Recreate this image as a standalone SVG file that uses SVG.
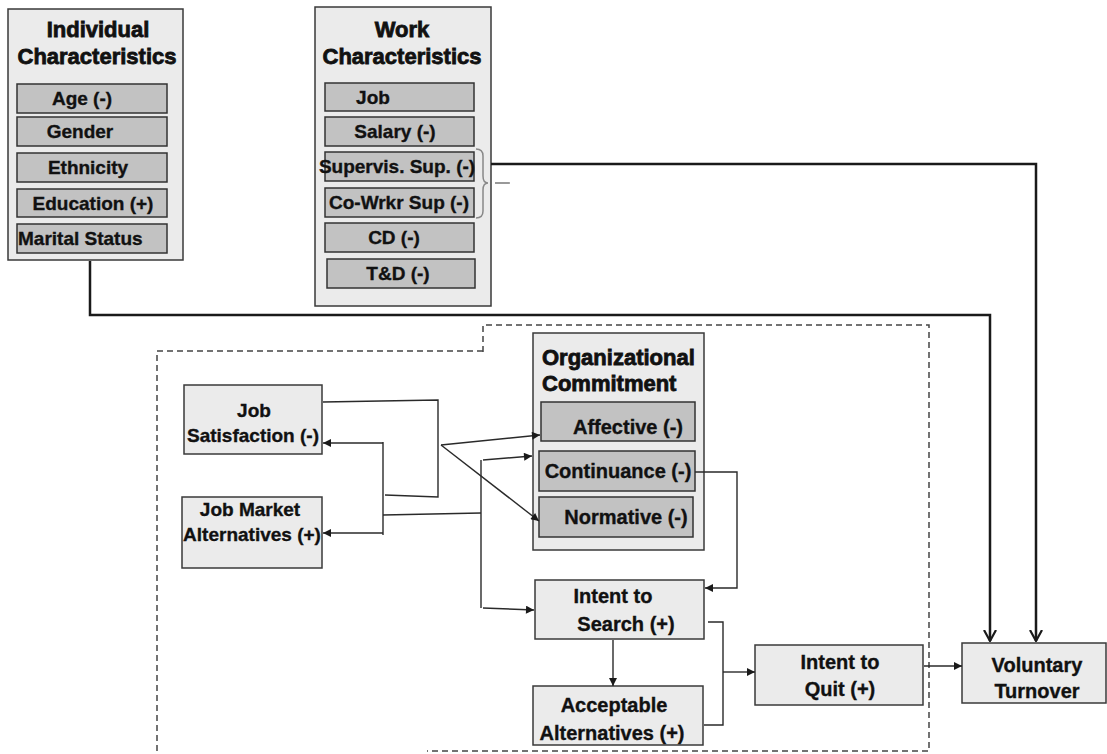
<svg xmlns="http://www.w3.org/2000/svg" width="1107" height="754" viewBox="0 0 1107 754">
  <style>
    .outer { fill: #ebebeb; stroke: #3a3a3a; stroke-width: 1.5; }
    .inner { fill: #c2c2c2; stroke: #333; stroke-width: 1.5; }
    .node { fill: #ebebeb; stroke: #3a3a3a; stroke-width: 1.5; }
    text { font-family: "Liberation Sans", Arial, sans-serif; font-weight: bold; fill: #111; stroke: #111; stroke-width: 0.35; }
    .title { font-size: 22px; stroke-width: 0.8; }
    .item { font-size: 19px; }
    .lbl { font-size: 20px; }
    .thick { fill: none; stroke: #1a1a1a; stroke-width: 2.5; }
    .conn { fill: none; stroke: #2a2a2a; stroke-width: 1.4; }
    .dash { fill: none; stroke: #444; stroke-width: 1.5; stroke-dasharray: 6 4; }
  </style>
  <defs>
    <marker id="tri" viewBox="0 0 10 10" refX="10" refY="5" markerWidth="10" markerHeight="8" markerUnits="userSpaceOnUse" orient="auto">
      <path d="M0,0 L10,5 L0,10 Z" fill="#1a1a1a"/>
    </marker>
    <marker id="vee" viewBox="0 0 12 14" refX="11" refY="7" markerWidth="12" markerHeight="14" markerUnits="userSpaceOnUse" orient="auto">
      <path d="M0,1 L11,7 L0,13" fill="none" stroke="#1a1a1a" stroke-width="2.2"/>
    </marker>
  </defs>

  <rect width="1107" height="754" fill="#ffffff"/>

  <!-- dashed boundary around the withdrawal process -->
  <g id="boundary">
    <path class="dash" d="M483,352 L483,325 L929,325 L929,751 L427,751"/>
    <path class="dash" d="M483,351 L157,351 L157,754"/>
  </g>

  <!-- individual characteristics -->
  <g id="individual">
    <rect class="outer" x="8" y="9" width="175" height="251"/>
    <text class="title" x="98" y="37" text-anchor="middle">Individual</text>
    <text class="title" x="97" y="64" text-anchor="middle">Characteristics</text>
    <rect class="inner" x="17" y="84" width="150" height="29"/>
    <text class="item" x="82" y="105" text-anchor="middle">Age (-)</text>
    <rect class="inner" x="17" y="117" width="150" height="29"/>
    <text class="item" x="80" y="138" text-anchor="middle">Gender</text>
    <rect class="inner" x="17" y="153" width="150" height="29"/>
    <text class="item" x="88" y="174" text-anchor="middle">Ethnicity</text>
    <rect class="inner" x="17" y="189" width="150" height="28"/>
    <text class="item" x="93" y="210" text-anchor="middle">Education (+)</text>
    <rect class="inner" x="17" y="224" width="150" height="29"/>
    <text class="item" x="18" y="245">Marital Status</text>
  </g>

  <!-- work characteristics -->
  <g id="work">
    <rect class="outer" x="315" y="7" width="176" height="299"/>
    <text class="title" x="402" y="37" text-anchor="middle">Work</text>
    <text class="title" x="402" y="64" text-anchor="middle">Characteristics</text>
    <rect class="inner" x="325" y="83" width="149" height="28"/>
    <text class="item" x="373" y="104" text-anchor="middle">Job</text>
    <rect class="inner" x="325" y="117" width="149" height="29"/>
    <text class="item" x="395" y="138" text-anchor="middle">Salary (-)</text>
    <rect class="inner" x="325" y="152" width="149" height="29"/>
    <text class="item" x="397" y="173" text-anchor="middle" font-size="17.5">Supervis. Sup. (-)</text>
    <rect class="inner" x="325" y="188" width="149" height="29"/>
    <text class="item" x="399" y="209" text-anchor="middle" font-size="18">Co-Wrkr Sup (-)</text>
    <rect class="inner" x="325" y="223" width="149" height="29"/>
    <text class="item" x="394" y="244" text-anchor="middle">CD (-)</text>
    <rect class="inner" x="327" y="259" width="148" height="29"/>
    <text class="item" x="398" y="280" text-anchor="middle">T&amp;D (-)</text>
    <!-- brace grouping the two support items -->
    <path d="M476,149 Q483,149 483,156 L483,176 Q483,183 488,183 Q483,183 483,190 L483,211 Q483,218 476,218" fill="none" stroke="#888" stroke-width="1.5"/>
    <line x1="495" y1="183" x2="510" y2="183" stroke="#555" stroke-width="1.2"/>
  </g>

  <!-- organizational commitment -->
  <g id="commitment">
    <rect class="outer" x="533" y="333" width="171" height="217"/>
    <text class="title" x="542" y="365">Organizational</text>
    <text class="title" x="542" y="391">Commitment</text>
    <rect class="inner" x="541" y="402" width="154" height="39"/>
    <text class="lbl" x="628" y="434" text-anchor="middle" font-size="21">Affective (-)</text>
    <rect class="inner" x="539" y="451" width="156" height="40"/>
    <text class="lbl" x="618" y="478" text-anchor="middle" font-size="21">Continuance (-)</text>
    <rect class="inner" x="539" y="497" width="154" height="40"/>
    <text class="lbl" x="626" y="524" text-anchor="middle" font-size="21">Normative (-)</text>
  </g>

  <g id="job-satisfaction">
    <rect class="node" x="184" y="385" width="138" height="69"/>
    <text class="item" x="254" y="417" text-anchor="middle">Job</text>
    <text class="item" x="253" y="442" text-anchor="middle">Satisfaction (-)</text>
  </g>

  <g id="job-market">
    <rect class="node" x="182" y="497" width="140" height="71"/>
    <text class="item" x="250" y="516" text-anchor="middle">Job Market</text>
    <text class="item" x="252" y="541" text-anchor="middle">Alternatives (+)</text>
  </g>

  <g id="intent-search">
    <rect class="node" x="535" y="580" width="169" height="59"/>
    <text class="lbl" x="613" y="603" text-anchor="middle">Intent to</text>
    <text class="lbl" x="626" y="631" text-anchor="middle">Search (+)</text>
  </g>

  <g id="acceptable-alternatives">
    <rect class="node" x="533" y="686" width="170" height="59"/>
    <text class="lbl" x="614" y="712" text-anchor="middle" font-size="21">Acceptable</text>
    <text class="lbl" x="612" y="740" text-anchor="middle" font-size="21">Alternatives (+)</text>
  </g>

  <g id="intent-quit">
    <rect class="node" x="755" y="645" width="168" height="60"/>
    <text class="lbl" x="840" y="669" text-anchor="middle">Intent to</text>
    <text class="lbl" x="840" y="696" text-anchor="middle">Quit (+)</text>
  </g>

  <g id="voluntary-turnover">
    <rect class="node" x="962" y="643" width="144" height="60"/>
    <text class="lbl" x="1037" y="672" text-anchor="middle" font-size="21">Voluntary</text>
    <text class="lbl" x="1037" y="698" text-anchor="middle" font-size="21">Turnover</text>
  </g>

  <!-- connectors, drawn last so arrowheads sit over box edges -->
  <g id="connectors">
    <path class="thick" d="M491,164 L1036,164 L1036,641" marker-end="url(#vee)"/>
    <path class="thick" d="M90,261 L90,315 L990,315 L990,641" marker-end="url(#vee)"/>

    <path class="conn" d="M323,402 L438,400 L438,497 L385,495"/>
    <path class="conn" d="M383,442 L383,535"/>
    <path class="conn" d="M383,443 L323,443" marker-end="url(#tri)"/>
    <path class="conn" d="M383,533 L323,533" marker-end="url(#tri)"/>
    <path class="conn" d="M383,515 L481,513"/>
    <path class="conn" d="M481,460 L481,608"/>
    <path class="conn" d="M483,460 L532,456" marker-end="url(#tri)"/>
    <path class="conn" d="M483,608 L534,610" marker-end="url(#tri)"/>
    <path class="conn" d="M441,445 L540,435" marker-end="url(#tri)"/>
    <path class="conn" d="M441,445 L539,521" marker-end="url(#tri)"/>
    <path class="conn" d="M695,472 L737,472 L737,588 L705,588" marker-end="url(#tri)"/>
    <path class="conn" d="M613,640 L613,686" marker-end="url(#tri)"/>
    <path class="conn" d="M708,622 L723,622 L723,725 L704,725"/>
    <path class="conn" d="M723,672 L755,672" marker-end="url(#tri)"/>
    <path class="conn" d="M924,666 L962,666" marker-end="url(#tri)"/>
  </g>
</svg>
